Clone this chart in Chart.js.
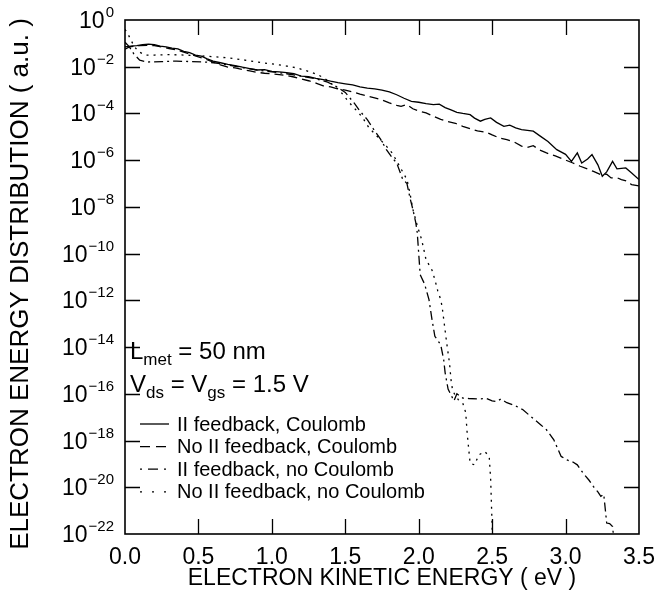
<!DOCTYPE html>
<html>
<head>
<meta charset="utf-8">
<script src="https://cdn.jsdelivr.net/npm/chart.js@4.4.1/dist/chart.umd.min.js"></script>
<style>
  html, body { margin: 0; padding: 0; background: #fff; }
  #wrap { width: 668px; height: 600px; position: relative; }
</style>
</head>
<body>
<div id="wrap"><canvas id="chart"></canvas></div>
<script>
// values: energy (eV) and log10 of the distribution
const solidE = [0.00, 0.04, 0.08, 0.12, 0.16, 0.20, 0.24, 0.28, 0.32, 0.36, 0.40, 0.44, 0.48, 0.52, 0.56, 0.60, 0.65, 0.70, 0.75, 0.80, 0.85, 0.90, 0.95, 1.00, 1.05, 1.10, 1.15, 1.20, 1.25, 1.30, 1.35, 1.40, 1.45, 1.50, 1.55, 1.60, 1.65, 1.70, 1.75, 1.80, 1.85, 1.90, 1.95, 2.00, 2.05, 2.10, 2.14, 2.18, 2.22, 2.26, 2.30, 2.35, 2.38, 2.42, 2.45, 2.49, 2.53, 2.58, 2.62, 2.66, 2.70, 2.74, 2.78, 2.83, 2.88, 2.94, 3.00, 3.04, 3.08, 3.11, 3.15, 3.18, 3.22, 3.25, 3.28, 3.32, 3.35, 3.38, 3.41, 3.45, 3.50];
const solidLog = [-1.15, -1.12, -1.10, -1.06, -1.03, -1.06, -1.12, -1.15, -1.20, -1.24, -1.34, -1.40, -1.50, -1.55, -1.66, -1.76, -1.83, -1.90, -1.95, -2.02, -2.08, -2.14, -2.12, -2.20, -2.22, -2.25, -2.30, -2.40, -2.42, -2.50, -2.55, -2.62, -2.68, -2.73, -2.78, -2.86, -2.92, -2.95, -3.00, -3.08, -3.20, -3.35, -3.48, -3.52, -3.58, -3.62, -3.60, -3.75, -3.85, -3.95, -4.00, -4.05, -4.20, -4.33, -4.25, -4.19, -4.38, -4.55, -4.50, -4.62, -4.69, -4.72, -4.76, -4.98, -5.20, -5.55, -5.75, -6.05, -5.69, -6.12, -5.95, -5.76, -6.20, -6.69, -6.50, -6.05, -6.37, -6.35, -6.33, -6.55, -6.83];

const dashE = [0.00, 0.03, 0.06, 0.10, 0.15, 0.20, 0.25, 0.30, 0.35, 0.40, 0.45, 0.50, 0.55, 0.60, 0.65, 0.70, 0.75, 0.80, 0.85, 0.90, 0.95, 1.00, 1.05, 1.10, 1.15, 1.20, 1.25, 1.30, 1.35, 1.40, 1.45, 1.50, 1.55, 1.60, 1.65, 1.70, 1.74, 1.80, 1.85, 1.88, 1.92, 1.96, 2.00, 2.05, 2.10, 2.15, 2.20, 2.25, 2.30, 2.35, 2.40, 2.46, 2.50, 2.55, 2.60, 2.65, 2.70, 2.74, 2.78, 2.82, 2.87, 2.93, 2.99, 3.05, 3.10, 3.15, 3.19, 3.24, 3.28, 3.31, 3.35, 3.38, 3.42, 3.45, 3.50];
const dashLog = [-1.25, -1.15, -1.12, -1.10, -1.08, -1.10, -1.15, -1.22, -1.28, -1.38, -1.48, -1.58, -1.68, -1.80, -1.92, -2.02, -2.05, -2.12, -2.18, -2.24, -2.28, -2.30, -2.34, -2.38, -2.44, -2.52, -2.60, -2.70, -2.82, -2.86, -2.95, -3.00, -3.08, -3.17, -3.25, -3.33, -3.40, -3.55, -3.65, -3.70, -3.62, -3.80, -3.90, -3.98, -4.12, -4.25, -4.35, -4.42, -4.55, -4.65, -4.75, -4.80, -4.92, -5.05, -5.12, -5.22, -5.40, -5.45, -5.38, -5.55, -5.69, -5.82, -5.97, -6.12, -6.26, -6.38, -6.48, -6.62, -6.60, -6.76, -6.75, -6.83, -6.90, -7.05, -7.10];

const dashDotE = [0.00, 0.03, 0.06, 0.10, 0.15, 0.25, 0.35, 0.45, 0.55, 0.62, 0.70, 0.80, 0.90, 1.00, 1.10, 1.20, 1.30, 1.38, 1.44, 1.50, 1.53, 1.56, 1.60, 1.65, 1.69, 1.74, 1.78, 1.82, 1.85, 1.89, 1.92, 1.94, 1.96, 1.98, 1.99, 2.00, 2.01, 2.04, 2.07, 2.09, 2.11, 2.15, 2.17, 2.18, 2.20, 2.22, 2.24, 2.26, 2.30, 2.34, 2.40, 2.46, 2.50, 2.53, 2.56, 2.60, 2.64, 2.68, 2.71, 2.75, 2.79, 2.83, 2.87, 2.92, 2.95, 2.97, 3.01, 3.05, 3.08, 3.12, 3.16, 3.19, 3.22, 3.24, 3.26, 3.28, 3.30, 3.32, 3.33];
const dashDotLog = [-0.95, -1.15, -1.45, -1.72, -1.80, -1.78, -1.76, -1.78, -1.80, -1.84, -1.92, -2.04, -2.14, -2.22, -2.30, -2.40, -2.52, -2.66, -2.85, -3.10, -3.33, -3.55, -3.90, -4.26, -4.65, -5.10, -5.55, -5.90, -6.12, -6.80, -7.00, -7.60, -8.10, -8.67, -9.10, -10.00, -10.90, -11.30, -11.97, -12.80, -13.54, -13.90, -14.54, -15.10, -15.80, -16.05, -16.30, -16.00, -16.18, -16.20, -16.22, -16.20, -16.30, -16.33, -16.22, -16.38, -16.47, -16.58, -16.68, -16.90, -17.11, -17.32, -17.54, -17.97, -18.40, -18.68, -18.83, -18.92, -19.04, -19.40, -19.70, -19.97, -20.20, -20.39, -20.30, -21.53, -21.55, -21.68, -22.30];

const dotE = [0.00, 0.02, 0.04, 0.06, 0.09, 0.14, 0.20, 0.30, 0.40, 0.50, 0.60, 0.70, 0.80, 0.90, 1.00, 1.10, 1.17, 1.25, 1.31, 1.36, 1.42, 1.46, 1.51, 1.55, 1.59, 1.63, 1.66, 1.72, 1.78, 1.82, 1.87, 1.92, 1.94, 1.96, 1.99, 2.02, 2.05, 2.09, 2.11, 2.13, 2.15, 2.16, 2.17, 2.19, 2.21, 2.22, 2.23, 2.25, 2.27, 2.30, 2.32, 2.33, 2.35, 2.38, 2.41, 2.45, 2.48, 2.49, 2.50, 2.50];
const dotLog = [-0.40, -0.60, -0.85, -1.10, -1.35, -1.50, -1.50, -1.48, -1.50, -1.53, -1.57, -1.62, -1.70, -1.80, -1.88, -1.97, -2.05, -2.20, -2.33, -2.50, -2.80, -3.00, -3.40, -3.70, -3.96, -4.30, -4.60, -5.00, -5.40, -5.70, -6.26, -6.83, -7.40, -8.10, -8.80, -9.40, -10.26, -10.70, -11.11, -11.60, -11.97, -12.30, -12.80, -13.80, -14.70, -15.40, -15.82, -16.10, -16.25, -16.40, -16.80, -17.69, -18.97, -19.04, -18.61, -18.47, -18.68, -19.68, -21.68, -22.50];

const seriesNames = ["II feedback, Coulomb", "No II feedback, Coulomb", "II feedback, no Coulomb", "No II feedback, no Coulomb"];
const xTicks = [0, 0.5, 1.0, 1.5, 2.0, 2.5, 3.0, 3.5];
const yTickExps = [0, -2, -4, -6, -8, -10, -12, -14, -16, -18, -20, -22];

const dashes = [[], [9, 5], [9, 4, 2, 4], [2, 5]];
const legendDashes = [[], [10, 6], [2, 6, 10, 6], [2, 10]];
const FONT = "'Liberation Sans', Arial, sans-serif";

function pts(es, logs) {
  return es.map((e, i) => ({ x: e, y: Math.pow(10, logs[i]) }));
}

const seriesData = [
  pts(solidE, solidLog),
  pts(dashE, dashLog),
  pts(dashDotE, dashDotLog),
  pts(dotE, dotLog),
];

const frame = {
  id: "frame",
  afterDraw(chart) {
    const { ctx, chartArea: a, scales } = chart;
    const xs = scales.x, ys = scales.y;
    ctx.save();
    ctx.strokeStyle = "#000";
    ctx.fillStyle = "#000";

    // inward ticks on all four sides
    ctx.lineWidth = 1.3;
    ctx.beginPath();
    xTicks.slice(1, -1).forEach((v) => {
      const px = Math.round(xs.getPixelForValue(v)) + 0.5;
      ctx.moveTo(px, a.bottom); ctx.lineTo(px, a.bottom - 15);
      ctx.moveTo(px, a.top); ctx.lineTo(px, a.top + 15);
    });
    yTickExps.slice(1, -1).forEach((e) => {
      const py = Math.round(ys.getPixelForValue(Math.pow(10, e))) + 0.5;
      ctx.moveTo(a.left, py); ctx.lineTo(a.left + 15, py);
      ctx.moveTo(a.right, py); ctx.lineTo(a.right - 15, py);
    });
    ctx.stroke();

    ctx.lineWidth = 1.6;
    ctx.strokeRect(a.left, a.top, a.right - a.left, a.bottom - a.top);

    // y tick labels 10^n
    yTickExps.forEach((e) => {
      const py = ys.getPixelForValue(Math.pow(10, e));
      const ex = e === 0 ? "0" : "\u2212" + Math.abs(e);
      ctx.font = "15px " + FONT;
      const w = ctx.measureText(ex).width;
      const right = a.left - 11;
      ctx.textAlign = "left";
      ctx.textBaseline = "alphabetic";
      ctx.fillText(ex, right - w, py - 3);
      ctx.font = "23px " + FONT;
      ctx.textAlign = "right";
      ctx.fillText("10", right - w - 1, py + 8);
    });

    // axis titles
    ctx.textAlign = "center";
    ctx.textBaseline = "middle";
    ctx.font = "23px " + FONT;
    ctx.fillText("ELECTRON KINETIC ENERGY ( eV )", (a.left + a.right) / 2, 579);
    ctx.save();
    ctx.translate(21, 284);
    ctx.rotate(-Math.PI / 2);
    ctx.font = "26px " + FONT;
    ctx.fillText("ELECTRON ENERGY DISTRIBUTION ( a.u. )", 0, 0);
    ctx.restore();

    // annotation
    const sub = (x, y, big, small) => {
      ctx.font = "24px " + FONT;
      ctx.fillText(big, x, y);
      x += ctx.measureText(big).width;
      ctx.font = "17px " + FONT;
      ctx.fillText(small, x, y + 6);
      return x + ctx.measureText(small).width;
    };
    ctx.textAlign = "left";
    ctx.textBaseline = "alphabetic";
    let x = sub(130, 359, "L", "met");
    ctx.font = "24px " + FONT;
    ctx.fillText(" = 50 nm", x, 359);
    x = sub(130, 392, "V", "ds");
    ctx.font = "24px " + FONT;
    ctx.fillText(" = ", x, 392);
    x = sub(x + ctx.measureText(" = ").width, 392, "V", "gs");
    ctx.font = "24px " + FONT;
    ctx.fillText(" = 1.5 V", x, 392);

    // legend
    ctx.font = "20px " + FONT;
    ctx.textBaseline = "middle";
    seriesNames.forEach((name, i) => {
      const py = 424 + i * 22.6;
      ctx.lineWidth = 1.3;
      ctx.setLineDash(legendDashes[i]);
      ctx.beginPath();
      ctx.moveTo(140, py); ctx.lineTo(169, py);
      ctx.stroke();
      ctx.setLineDash([]);
      ctx.fillText(name, 177, py + 1);
    });
    ctx.restore();
  },
};

new Chart(document.getElementById("chart"), {
  type: "line",
  data: {
    datasets: seriesData.map((d, i) => ({
      label: seriesNames[i],
      data: d,
      borderColor: "#000",
      borderWidth: 1.3,
      borderDash: dashes[i],
      pointRadius: 0,
      tension: 0,
      fill: false,
    })),
  },
  options: {
    responsive: true,
    maintainAspectRatio: false,
    animation: false,
    layout: { padding: { top: 20, right: 29, left: 0, bottom: 0 } },
    scales: {
      x: {
        type: "linear",
        min: 0,
        max: 3.5,
        afterBuildTicks: (s) => { s.ticks = xTicks.map((v) => ({ value: v })); },
        afterFit: (s) => { s.height = 66; },
        ticks: {
          color: "#000",
          padding: 10,
          maxRotation: 0,
          font: { family: FONT, size: 23 },
          callback: (v) => Number(v).toFixed(1),
        },
        grid: { drawOnChartArea: false, drawTicks: false },
        border: { display: false },
      },
      y: {
        type: "logarithmic",
        min: 1e-22,
        max: 1,
        afterFit: (s) => { s.width = 125; },
        ticks: { display: false },
        grid: { display: false },
        border: { display: false },
      },
    },
    plugins: {
      legend: { display: false },
      tooltip: { enabled: false },
    },
  },
  plugins: [frame],
});
</script>
</body>
</html>
